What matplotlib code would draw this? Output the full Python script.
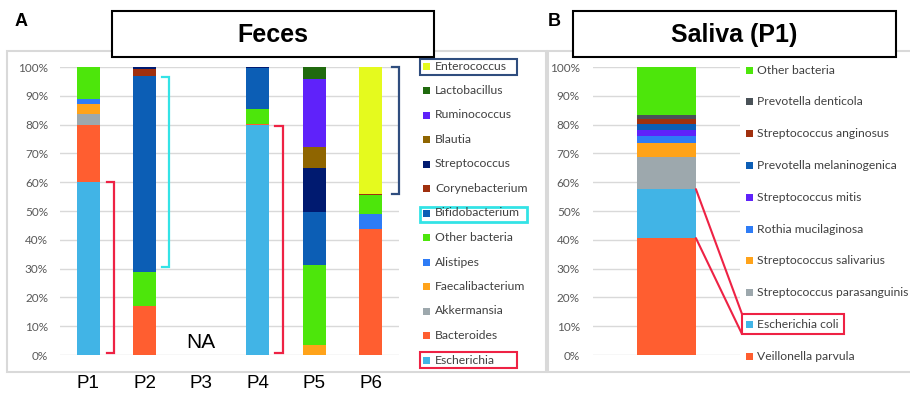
import matplotlib
matplotlib.use('Agg')
import matplotlib.pyplot as plt
from matplotlib.patches import Rectangle, ConnectionPatch
import numpy as np

W, H = 910, 393

# ---- data: feces (percent per sample) ----
samples = ['P1', 'P2', 'P3', 'P4', 'P5', 'P6']
escherichia = [60.0, 0, 0, 79.7, 0, 0]
bacteroides = [20.0, 17.0, 0, 0.6, 0, 43.9]
akkermansia = [3.8, 0, 0, 0, 0, 0]
faecalibacterium = [3.5, 0, 0, 0, 3.5, 0]
alistipes = [1.6, 0, 0, 0, 0, 5.0]
other_feces = [11.1, 11.9, 0, 5.1, 27.7, 6.5]
bifidobacterium = [0, 67.9, 0, 14.4, 18.4, 0]
corynebacterium = [0, 2.5, 0, 0, 0, 0.6]
streptococcus = [0, 0.7, 0, 0.2, 15.4, 0]
blautia = [0, 0, 0, 0, 7.2, 0]
ruminococcus = [0, 0, 0, 0, 23.6, 0]
lactobacillus = [0, 0, 0, 0, 4.2, 0]
enterococcus = [0, 0, 0, 0, 0, 44.0]

feces_names = ['Escherichia', 'Bacteroides', 'Akkermansia', 'Faecalibacterium',
               'Alistipes', 'Other bacteria', 'Bifidobacterium', 'Corynebacterium',
               'Streptococcus', 'Blautia', 'Ruminococcus', 'Lactobacillus',
               'Enterococcus']
feces_vals = [escherichia, bacteroides, akkermansia, faecalibacterium, alistipes,
              other_feces, bifidobacterium, corynebacterium, streptococcus,
              blautia, ruminococcus, lactobacillus, enterococcus]
feces_cols = ['#41B4E6', '#FF5E30', '#9DA8AD', '#FFA31A', '#2E7CF6', '#4DE60B',
              '#0C5EB5', '#A0300E', '#001A70', '#8F6500', '#5F22FA', '#206A0E',
              '#E5FA1E']

# ---- data: saliva P1 ----
saliva_names = ['Veillonella parvula', 'Escherichia coli', 'Streptococcus parasanguinis',
                'Streptococcus salivarius', 'Rothia mucilaginosa', 'Streptococcus mitis',
                'Prevotella melaninogenica', 'Streptococcus anginosus',
                'Prevotella denticola', 'Other bacteria']
saliva_vals = [40.6, 17.0, 11.1, 4.8, 2.4, 2.3, 2.0, 1.7, 1.4, 16.7]
saliva_cols = ['#FF5E30', '#41B4E6', '#9DA8AD', '#FFA31A', '#2E7CF6', '#5F22FA',
               '#0C5EB5', '#A0300E', '#4A5258', '#4DE60B']

RED = '#EE2244'
CYAN = '#33E3E6'
NAVY = '#2F4D7E'
GRID = '#D9D9D9'
TICK = '#595959'
LEG = '#404040'


def fx(x):
    return x / W


def fy(y):
    return 1 - y / H


def frect(x0, y0, x1, y1, **kw):
    return Rectangle((fx(x0), fy(y1)), (x1 - x0) / W, (y1 - y0) / H,
                     transform=fig.transFigure, **kw)


fig = plt.figure(figsize=(W / 100, H / 100), dpi=100)

# panel frames (behind the axes)
fig.patches.append(frect(7, 51, 546, 372, facecolor='white', edgecolor=GRID, lw=1.5, zorder=-2))
fig.patches.append(frect(548, 51, 915, 372, facecolor='white', edgecolor=GRID, lw=1.5, zorder=-2))


def style_axis(ax, pad):
    ax.set_ylim(0, 1)
    ax.set_yticks(np.arange(0, 1.01, 0.1))
    ax.set_yticklabels([f'{int(round(v * 100))}%' for v in np.arange(0, 1.01, 0.1)],
                       fontsize=8.5, color=TICK, family='Lato')
    ax.tick_params(axis='y', length=0, pad=pad)
    ax.grid(axis='y', color=GRID, lw=1)
    ax.set_axisbelow(True)
    for s in ax.spines.values():
        s.set_visible(False)
    ax.patch.set_alpha(0)


# ---- panel A ----
axA = fig.add_axes([fx(60), fy(355), 339 / W, 288 / H])
x = np.arange(len(samples))
bottom = np.zeros(len(samples))
for name, vals, col in zip(feces_names, feces_vals, feces_cols):
    v = np.array(vals) / 100
    axA.bar(x, v, 0.4, bottom=bottom, color=col, label=name)
    bottom += v
axA.set_xlim(-0.5, 5.5)
style_axis(axA, 8.6)
axA.set_xticks(x)
axA.set_xticklabels(samples, fontsize=13.5, family='Liberation Sans')
axA.tick_params(axis='x', length=0, pad=14.5)
axA.text(2, 0.045, 'NA', ha='center', va='center', fontsize=15, family='Liberation Sans')

cum = np.cumsum(np.array(feces_vals), axis=0) / 100


def bracket(ax, i, x0, x1, y0, y1, col):
    ax.plot([i + x0, i + x1, i + x1, i + x0], [y0, y0, y1, y1],
            color=col, lw=1.6, clip_on=False, solid_joinstyle='miter')


bracket(axA, 0, 0.33, 0.456, 0.006, cum[0, 0], RED)
bracket(axA, 1, 0.305, 0.43, cum[5, 1] + 0.018, cum[6, 1] - 0.003, CYAN)
bracket(axA, 3, 0.305, 0.447, 0.006, cum[0, 3] - 0.002, RED)
bracket(axA, 5, 0.376, 0.5, cum[7, 5], 1.0, NAVY)

# legend A (drawn top to bottom, reverse of stacking)
for k, idx in enumerate(range(len(feces_names) - 1, -1, -1)):
    yc = 66 + k * 24.5
    fig.patches.append(frect(423, yc - 3.5, 430, yc + 3.5, facecolor=feces_cols[idx], lw=0))
    fig.text(fx(435), fy(yc), feces_names[idx], fontsize=8.7, color=LEG,
             family='Lato', va='center', ha='left')
fig.patches.append(frect(420, 59, 517, 75, fill=False, edgecolor=NAVY, lw=1.5))
fig.patches.append(frect(420, 207, 527, 222, fill=False, edgecolor=CYAN, lw=2))
fig.patches.append(frect(420, 352, 517, 368, fill=False, edgecolor=RED, lw=1.5))

# ---- panel B ----
axB = fig.add_axes([fx(593), fy(355), 147 / W, 288 / H])
b = 0.0
for name, v, col in zip(saliva_names, saliva_vals, saliva_cols):
    axB.bar(0, v / 100, 0.4, bottom=b, color=col, label=name)
    b += v / 100
axB.set_xlim(-0.5, 0.5)
style_axis(axB, 9.4)
axB.set_xticks([])

for k, idx in enumerate(range(len(saliva_names) - 1, -1, -1)):
    yc = 70 + k * 31.8
    fig.patches.append(frect(746, yc - 3.5, 753, yc + 3.5, facecolor=saliva_cols[idx], lw=0))
    fig.text(fx(757), fy(yc), saliva_names[idx], fontsize=8.7, color=LEG,
             family='Lato', va='center', ha='left')
fig.patches.append(frect(742, 314, 844, 334, fill=False, edgecolor=RED, lw=1.5))

sal_cum = np.cumsum(saliva_vals) / 100
for yv, ypx in [(sal_cum[1], 314), (sal_cum[0], 334)]:
    con = ConnectionPatch(xyA=(0.2, yv), coordsA=axB.transData,
                          xyB=(fx(742), fy(ypx)), coordsB=fig.transFigure,
                          color=RED, lw=1.5, zorder=4)
    fig.add_artist(con)

# ---- titles ----
fig.patches.append(frect(112, 11, 434, 57, facecolor='white', edgecolor='black', lw=1.5, zorder=5))
fig.patches.append(frect(573, 11, 896, 57, facecolor='white', edgecolor='black', lw=1.5, zorder=5))
fig.text(fx(273), fy(35), 'Feces', fontsize=18, weight='bold', family='Liberation Sans',
         ha='center', va='center', zorder=6)
fig.text(fx(734), fy(35), 'Saliva (P1)', fontsize=18, weight='bold', family='Liberation Sans',
         ha='center', va='center', zorder=6)
fig.text(fx(21), fy(21), 'A', fontsize=13, weight='bold', family='Liberation Sans',
         ha='center', va='center')
fig.text(fx(554), fy(21), 'B', fontsize=13, weight='bold', family='Liberation Sans',
         ha='center', va='center')

fig.savefig('out.png', dpi=100, facecolor='white')
